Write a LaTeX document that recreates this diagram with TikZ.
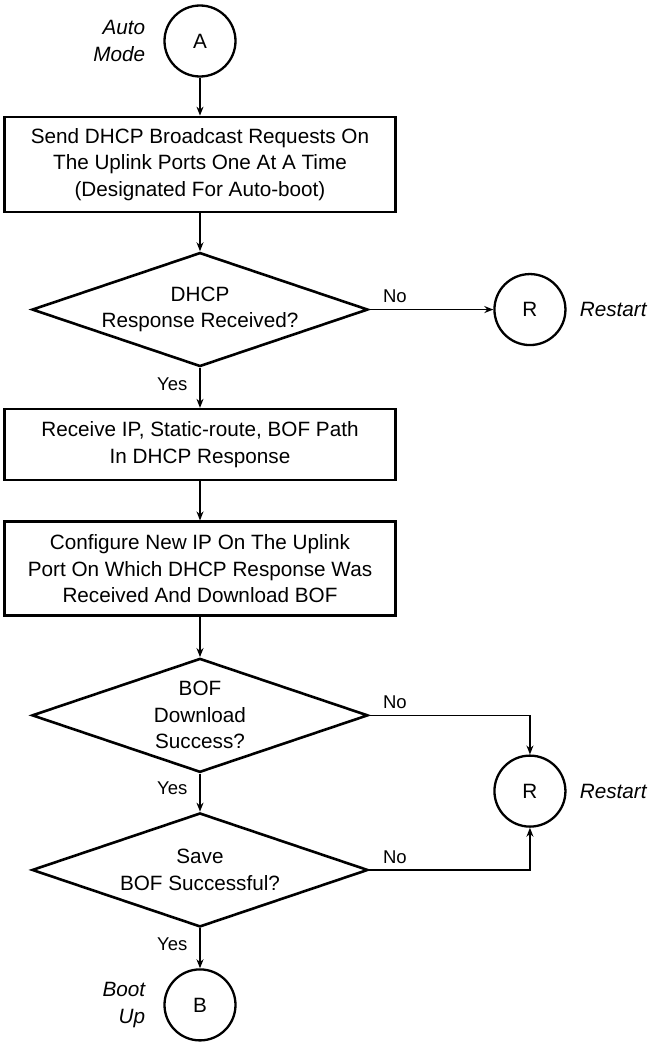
\documentclass[tikz,border=0pt]{standalone}
\usepackage{fontspec}
\setmainfont{Liberation Sans}
\usetikzlibrary{shapes.geometric, arrows.meta, positioning, calc}

\tikzset{
  proc/.style={draw, line width=2.6pt, rectangle, minimum width=391pt, align=center, inner sep=0pt},
  decide/.style={draw, line width=2.6pt, diamond, aspect=2.9, minimum width=336pt, minimum height=114pt, align=center, inner sep=0pt},
  term/.style={draw, line width=2.3pt, circle, minimum size=71pt, inner sep=0pt},
  side/.style={font=\itshape\fontsize{20.7}{26.5}\selectfont, inner sep=0pt, align=right},
  conn/.style={line width=1.4pt, -{Stealth[length=9pt, width=7pt]}},
  yeslab/.style={font=\fontsize{18.5}{22}\selectfont, inner sep=0pt, anchor=east, xshift=-12pt, yshift=4pt},
  nolab/.style={font=\fontsize{18.5}{22}\selectfont, inner sep=0pt, anchor=south west, xshift=13pt, yshift=6pt}
}

\begin{document}
\begin{tikzpicture}[font=\fontsize{20.7}{26.5}\selectfont]
  \useasboundingbox (-200pt,41pt) rectangle (451pt,-1003pt);

  %Define nodes
  \node[term] (A) {A};
  \node[side, left=18pt of A] (auto) {Auto\\Mode};
  \node[proc, below=38pt of A, minimum height=95pt] (send) {Send DHCP Broadcast Requests On\\The Uplink Ports One At A Time\\(Designated For Auto-boot)};
  \node[decide, below=38pt of send] (gotdhcp) {DHCP\\Response Received?};
  \node[term, right=124pt of gotdhcp] (R1) {R};
  \node[side, right=13pt of R1] (restart1) {Restart};
  \node[proc, below=40pt of gotdhcp, minimum height=71pt] (recv) {Receive IP, Static-route, BOF Path\\In DHCP Response};
  \node[proc, below=39pt of recv, minimum height=94pt] (config) {Configure New IP On The Uplink\\Port On Which DHCP Response Was\\Received And Download BOF};
  \node[decide, below=40pt of config] (gotbof) {BOF\\Download\\Success?};
  \node[decide, below=38pt of gotbof] (savebof) {Save\\BOF Successful?};
  \node[term] (R2) at ($(R1 |- gotbof.east)!0.49!(R1 |- savebof.east)$) {R};
  \node[side, right=13pt of R2] (restart2) {Restart};
  \node[term, below=40pt of savebof] (B) {B};
  \node[side, left=18pt of B] (boot) {Boot\\Up};

  % Connect the nodes
  \draw[conn] (A) -- (send);
  \draw[conn] (send) -- (gotdhcp);
  \draw[conn] (gotdhcp) -- node[yeslab] {Yes} (recv);
  \draw[conn] (gotdhcp) -- node[nolab, pos=0] {No} (R1);
  \draw[conn] (recv) -- (config);
  \draw[conn] (config) -- (gotbof);
  \draw[conn] (gotbof) -- node[yeslab] {Yes} (savebof);
  \draw[conn] (gotbof.east) -| node[nolab, pos=0] {No} (R2.north);
  \draw[conn] (savebof.east) -| node[nolab, pos=0] {No} (R2.south);
  \draw[conn] (savebof) -- node[yeslab] {Yes} (B);

\end{tikzpicture}
\end{document}
